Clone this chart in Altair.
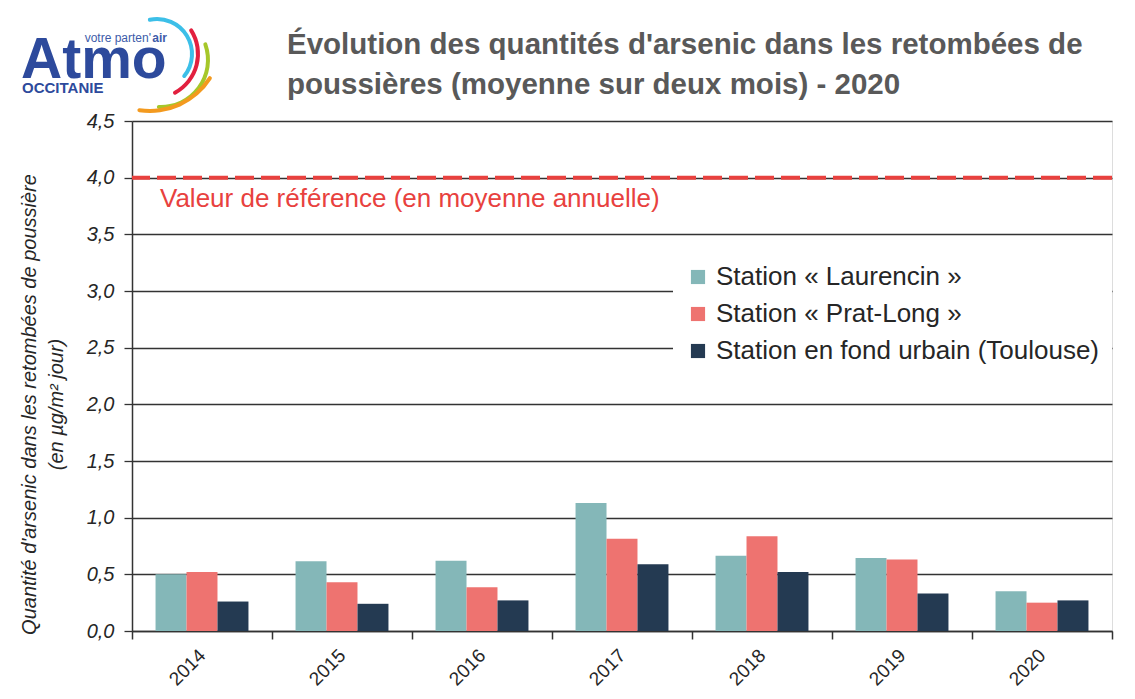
import altair as alt
import pandas as pd

years = ["2014", "2015", "2016", "2017", "2018", "2019", "2020"]
series = ["Station « Laurencin »", "Station « Prat-Long »", "Station en fond urbain (Toulouse)"]
laurencin = [0.50, 0.615, 0.62, 1.13, 0.665, 0.645, 0.35]
prat_long = [0.52, 0.43, 0.385, 0.815, 0.835, 0.63, 0.25]
urbain = [0.26, 0.24, 0.27, 0.59, 0.52, 0.33, 0.27]
colors = ["#84b7b8", "#ee7370", "#243a52"]
y_ticks = [0.0, 0.5, 1.0, 1.5, 2.0, 2.5, 3.0, 3.5, 4.0, 4.5]
ref_value = 4.0
ref_label = "Valeur de référence (en moyenne annuelle)"
title_lines = ["Évolution des quantités d'arsenic dans les retombées de",
               "poussières (moyenne sur deux mois) - 2020"]
y_title = ["Quantité d'arsenic dans les retombées de poussière", "(en µg/m² jour)"]

FONT = "Liberation Sans, Arial, sans-serif"

rows = []
for i, y in enumerate(years):
    for s, vals in zip(series, [laurencin, prat_long, urbain]):
        rows.append({"annee": y, "station": s, "valeur": vals[i]})
df = pd.DataFrame(rows)

W, H = 980, 510

bars = alt.Chart(df).mark_bar().encode(
    x=alt.X("annee:N", sort=years, title=None,
            scale=alt.Scale(paddingInner=0, paddingOuter=0),
            axis=alt.Axis(tickBand="extent", tickSize=8, tickColor="#333333", tickWidth=1.5,
                          domainColor="#333333", domainWidth=1.5,
                          labelAngle=-45, labelAlign="right", labelBaseline="middle",
                          labelPadding=13, labelFontSize=19, labelFont=FONT,
                          labelColor="#262626", grid=False)),
    xOffset=alt.XOffset("station:N", sort=series,
                        scale=alt.Scale(paddingOuter=0.76, paddingInner=0)),
    y=alt.Y("valeur:Q", title=y_title,
            scale=alt.Scale(domain=[0, 4.5], nice=False, zero=True),
            axis=alt.Axis(values=y_ticks,
                          labelExpr="replace(format(datum.value, '.1f'), '.', ',')",
                          labelFont=FONT, labelFontSize=20, labelFontStyle="italic",
                          labelColor="#262626", labelPadding=10,
                          tickSize=8, tickColor="#333333", tickWidth=1.3,
                          domainColor="#333333", domainWidth=1.5,
                          grid=True, gridColor="#333333", gridWidth=1.3,
                          titleFont=FONT, titleFontSize=20, titleFontStyle="italic",
                          titleFontWeight="normal", titleColor="#262626",
                          titleAngle=270, titleAlign="center", titleBaseline="alphabetic",
                          titleX=-97, titleY=283, titleLineHeight=27)),
    color=alt.Color("station:N", sort=series,
                    scale=alt.Scale(domain=series, range=colors),
                    legend=alt.Legend(title=None, orient="none", legendX=541, legendY=131,
                                      fillColor="white", padding=12,
                                      symbolType="square", symbolSize=200, symbolStrokeWidth=0,
                                      labelFont=FONT, labelFontSize=26, labelColor="#262626",
                                      labelLimit=0, rowPadding=11, labelOffset=5)),
)

ref_df = pd.DataFrame({"valeur": [ref_value], "label": [ref_label]})
ref_rule = alt.Chart(ref_df).mark_rule(color="#e8413e", strokeWidth=4,
                                       strokeDash=[19, 7]).encode(y="valeur:Q")
ref_text = alt.Chart(ref_df).mark_text(align="left", baseline="middle", dy=21,
                                       font=FONT, fontSize=26, color="#e8413e").encode(
    y="valeur:Q", x=alt.value(28), text="label:N")

# logo (decoration)
logo_df = pd.DataFrame({"a": ["Atmo"], "b": ["votre parten'"], "c": ["air"], "d": ["OCCITANIE"]})
logo_blue = "#2d4a9c"
logo_atmo = alt.Chart(logo_df).mark_text(align="left", baseline="alphabetic", font=FONT,
                                         fontSize=57, fontWeight="bold", color=logo_blue).encode(
    x=alt.value(-111), y=alt.value(-43), text="a:N")
logo_votre = alt.Chart(logo_df).mark_text(align="right", baseline="alphabetic", font=FONT,
                                          fontSize=12, color="#3d5ba9").encode(
    x=alt.value(19), y=alt.value(-79), text="b:N")
logo_air = alt.Chart(logo_df).mark_text(align="right", baseline="alphabetic", font=FONT,
                                        fontSize=12, fontWeight="bold", color="#3d5ba9").encode(
    x=alt.value(35), y=alt.value(-79), text="c:N")
logo_occ = alt.Chart(logo_df).mark_text(align="left", baseline="alphabetic", font=FONT,
                                        fontSize=15, fontWeight="bold", color=logo_blue).encode(
    x=alt.value(-110), y=alt.value(-28), text="d:N")

arcs = []
for cx, cy, r, t1, t2, col in [(25, -67, 35, 6.02, 8.59, "#3cbfe8"),
                               (22, -67, 44, 0.96, 2.69, "#e2203f"),
                               (29, -61, 47, 1.19, 3.23, "#a6c72a"),
                               (18, -81, 71, 2.11, 3.32, "#f39a1f")]:
    arcs.append(alt.Chart(logo_df).mark_arc(theta=t1, theta2=t2, radius=r + 2, radius2=r - 2,
                                            cornerRadius=2, color=col).encode(
        x=alt.value(cx), y=alt.value(cy)))

chart = alt.layer(bars, ref_rule, ref_text, logo_atmo, logo_votre, logo_air, logo_occ, *arcs).properties(
    width=W, height=H,
    title=alt.TitleParams(text=title_lines, anchor="start", frame="group", dx=155, dy=106,
                          font=FONT, fontSize=29.5,
                          fontWeight="bold", color="#595959", lineHeight=40, offset=0,
                          baseline="alphabetic"),
    padding={"left": 124, "top": 113, "right": 15, "bottom": 60},
    autosize=alt.AutoSizeParams(type="none"),
).configure_view(stroke=None).configure(background="white")

chart.save("out.html", embed_options={"renderer": "svg", "actions": False})
